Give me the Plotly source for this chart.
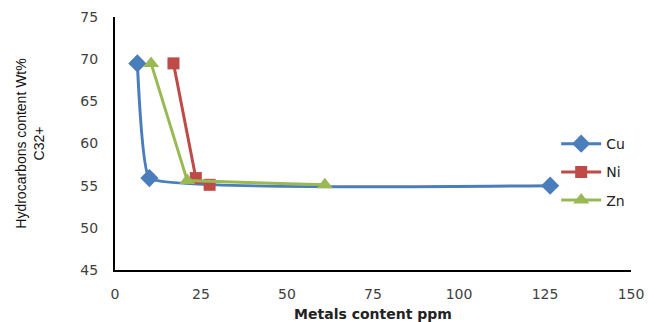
import plotly.graph_objects as go

cu_x = [6.5, 10, 126.5]
cu_y = [69.5, 55.9, 55.0]
ni_x = [17, 23.5, 27.5]
ni_y = [69.5, 55.9, 55.1]
zn_x = [10.5, 21, 61]
zn_y = [69.5, 55.6, 55.1]

fig = go.Figure()
fig.add_trace(go.Scatter(x=cu_x, y=cu_y, name="Cu", mode="lines+markers", legendgroup="a",
                         line=dict(color="#4A7EBB", width=3, shape="spline", smoothing=0.25),
                         marker=dict(symbol="diamond", size=14, color="#4A7EBB")))
fig.add_trace(go.Scatter(x=ni_x, y=ni_y, name="Ni", mode="lines+markers", legendgroup="b",
                         line=dict(color="#BE4B48", width=3),
                         marker=dict(symbol="square", size=12, color="#BE4B48")))
fig.add_trace(go.Scatter(x=zn_x, y=zn_y, name="Zn", mode="lines+markers", legendgroup="c",
                         line=dict(color="#98B954", width=3),
                         marker=dict(symbol="triangle-up", size=14, color="#98B954")))

tickfont = dict(family="DejaVu Sans", size=14, color="#404040")
fig.update_layout(
    width=649, height=314,
    margin=dict(l=107, r=26, t=9, b=52),
    paper_bgcolor="white", plot_bgcolor="white",
    showlegend=True,
    legend=dict(x=0.855, y=0.387, xanchor="left", yanchor="middle",
                font=dict(family="DejaVu Sans", size=14, color="#222"),
                bgcolor="rgba(0,0,0,0)", itemwidth=40, tracegroupgap=7),
    xaxis=dict(range=[0, 150], tickvals=[0, 25, 50, 75, 100, 125, 150],
               showgrid=False, zeroline=False, showline=True, linecolor="black",
               linewidth=2, ticks="", tickfont=tickfont, automargin=False,
               ticklabelstandoff=10,
               title=dict(text="<b>Metals content ppm</b>",
                          font=dict(family="DejaVu Sans", size=14, color="#222"), standoff=10)),
    yaxis=dict(range=[45, 75], tickvals=[45, 50, 55, 60, 65, 70, 75],
               showgrid=False, zeroline=False, showline=True, linecolor="black",
               linewidth=2, ticks="", tickfont=tickfont, automargin=False,
               ticklabelstandoff=12,
               title=dict(text="Hydrocarbons content Wt%<br>C32+",
                          font=dict(family="Liberation Sans", size=14, color="#111"),
                          standoff=32)),
)
fig.write_html("out.html")
